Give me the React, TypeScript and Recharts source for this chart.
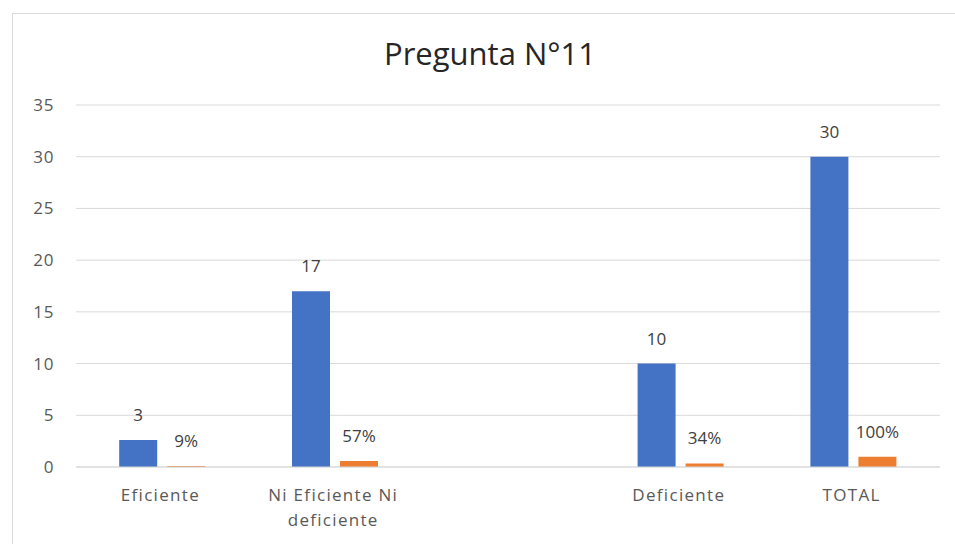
import React from 'react';
import { BarChart, Bar, XAxis, YAxis, CartesianGrid, LabelList, Text } from 'recharts';

const categories = ['Eficiente', 'Ni Eficiente Ni deficiente', '', 'Deficiente', 'TOTAL'];
const counts = [2.6, 17, null, 10, 30];
const countLabels = ['3', '17', '', '10', '30'];
const shares = [0.09, 0.57, null, 0.34, 1];
const shareLabels = ['9%', '57%', '', '34%', '100%'];
const yTicks = [0, 5, 10, 15, 20, 25, 30, 35];
const title = 'Pregunta N°11';

const FONT = "'Open Sans', sans-serif";
const data = categories.map((c, i) => ({
  name: c,
  count: counts[i],
  countLabel: countLabels[i],
  share: shares[i],
  shareLabel: shareLabels[i],
}));

const CatTick = (props: any) => {
  const { x, y, payload } = props;
  if (!payload || !payload.value) return null;
  return (
    <Text
      x={x - 2}
      y={y}
      width={170}
      textAnchor="middle"
      verticalAnchor="middle"
      lineHeight={25}
      fill="#595959"
      style={{ fontSize: 17, fontFamily: FONT, letterSpacing: 1.3 }}
    >
      {payload.value}
    </Text>
  );
};

export default function App() {
  return (
    <div style={{ position: 'fixed', left: 0, top: 0, width: 955, height: 544, overflow: 'hidden', background: '#fff' }}>
      <div style={{ position: 'absolute', left: 12, top: 13, width: 960, height: 560, border: '1px solid #d9d9d9', boxSizing: 'border-box' }} />
      <div style={{ position: 'absolute', left: 0, top: 33, width: 980, textAlign: 'center', fontFamily: FONT, fontSize: 31, lineHeight: '40px', color: '#262626' }}>
        {title}
      </div>
      <div style={{ position: 'absolute', left: 1, top: 0 }}>
        <BarChart
          width={955}
          height={544}
          data={data}
          margin={{ top: 105, right: 16, bottom: 17, left: 0 }}
          barCategoryGap="25%"
          barGap={10}
        >
          <CartesianGrid vertical={false} stroke="#d9d9d9" />
          <XAxis
            dataKey="name"
            axisLine={{ stroke: '#d9d9d9' }}
            tickLine={false}
            height={60}
            interval={0}
            tickMargin={28}
            tick={<CatTick />}
          />
          <YAxis
            width={75}
            domain={[0, 35]}
            ticks={yTicks}
            axisLine={false}
            tickLine={false}
            tickMargin={16}
            tick={{ fill: '#595959', fontSize: 17, fontFamily: FONT, letterSpacing: 0.6 }}
          />
          <Bar dataKey="count" fill="#4472C4" isAnimationActive={false}>
            <LabelList dataKey="countLabel" position="top" offset={19} fill="#404040" fontSize={17} fontFamily={FONT} />
          </Bar>
          <Bar dataKey="share" fill="#ED7D31" isAnimationActive={false}>
            <LabelList dataKey="shareLabel" position="top" offset={19} fill="#404040" fontSize={17} fontFamily={FONT} />
          </Bar>
        </BarChart>
      </div>
    </div>
  );
}
